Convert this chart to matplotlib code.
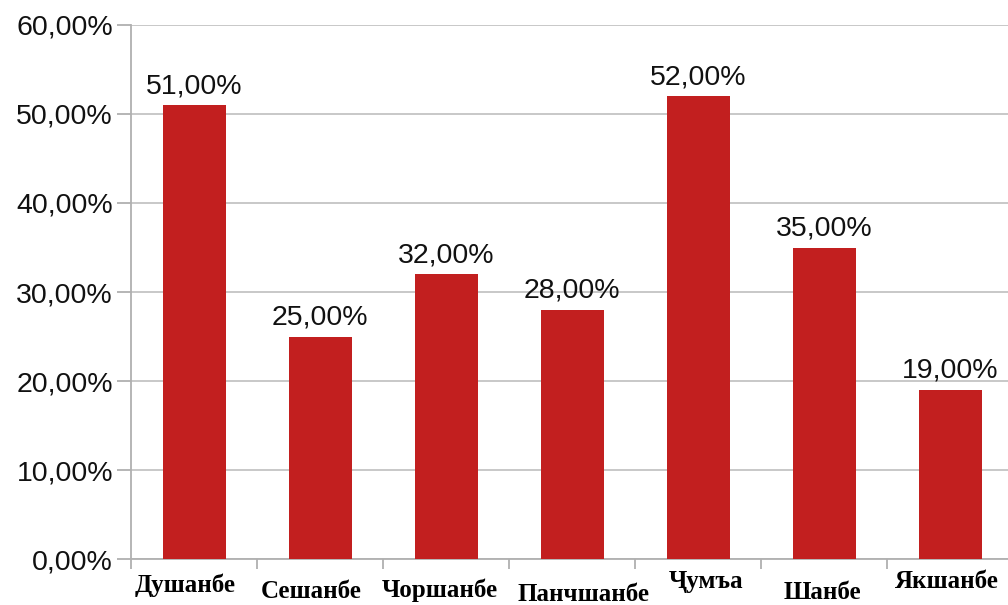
import numpy as np
import matplotlib.pyplot as plt

# days of the week (Tajik) and share per day
days = ['Душанбе', 'Сешанбе', 'Чоршанбе', 'Панчшанбе', 'Ҷумъа', 'Шанбе', 'Якшанбе']
values = [51, 25, 32, 28, 52, 35, 19]

# hand placement of the staggered day labels, pixels from bar centre / axis
label_dx = [-9, -9, -6, 11, 8, -2, -3]
label_drop = [33, 39, 38, 42, 29, 40, 29]

fig = plt.figure(figsize=(10.08, 6.05), dpi=100)
ax = fig.add_axes([0.130, 0.076, 0.875, 0.8827])

x = np.arange(len(days))
ax.bar(x, values, width=0.5, color='#C21F1F', zorder=3)

for xi, v in zip(x, values):
    ax.annotate(f'{v:.2f}%'.replace('.', ','), (xi, v), xytext=(0, 6),
                textcoords='offset pixels', ha='center', va='bottom',
                fontsize=20.5, family='Liberation Sans', color='#111111')

ax.set_ylim(0, 60)
ax.set_xlim(-0.5, len(days) - 0.5)
ax.set_yticks(np.arange(0, 61, 10))
ax.set_yticklabels([f'{t:.2f}%'.replace('.', ',') for t in np.arange(0, 61, 10)],
                   fontsize=20.5, family='Liberation Sans', color='#111111')
ax.yaxis.grid(True, color='#c4c4c4', linewidth=1.3, zorder=0)
ax.tick_params(axis='y', length=10, color='#b0b0b0', width=1.3, pad=3)

# category boundary ticks on x, labels drawn by hand
ax.set_xticks(np.arange(-0.5, len(days) + 0.5, 1))
ax.set_xticklabels([])
ax.tick_params(axis='x', length=7, color='#b0b0b0', width=1.3)
for xi, d, dx, off in zip(x, days, label_dx, label_drop):
    ax.annotate(d, (xi, 0), xycoords=('data', 'axes fraction'),
                xytext=(dx, -off), textcoords='offset pixels',
                ha='center', va='baseline', fontsize=18, fontweight='bold',
                family=['Liberation Serif', 'DejaVu Serif'], annotation_clip=False)

for s in ['top', 'right']:
    ax.spines[s].set_visible(False)
for s in ['left', 'bottom']:
    ax.spines[s].set_color('#b0b0b0')
    ax.spines[s].set_linewidth(1.3)

fig.savefig('out.png', dpi=100)
